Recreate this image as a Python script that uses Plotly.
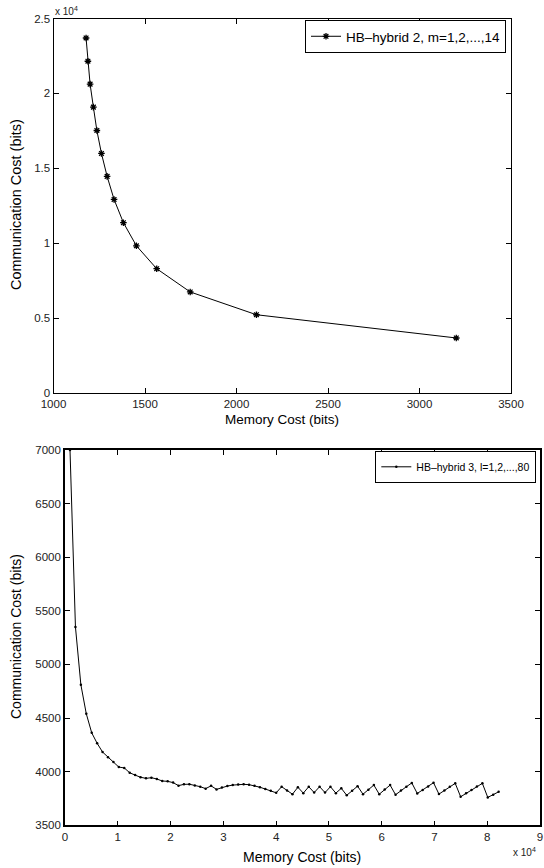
import plotly.graph_objects as go

# ---------------- data: top chart (HB-hybrid 2, m=1..14) ----------------
mem2 = [1178, 1188, 1200, 1218, 1237, 1262, 1293, 1331, 1382, 1453, 1564, 1747, 2109, 3201]
comm2 = [23700, 22150, 20620, 19090, 17530, 16000, 14470, 12930, 11380, 9840, 8310, 6760, 5240, 3690]

# ---------------- data: bottom chart (HB-hybrid 3, l=1..80) ----------------
mem3 = [950, 1978, 3006, 4034, 5062, 6090, 7118, 8146, 9174, 10202,
        11230, 12258, 13286, 14314, 15342, 16370, 17398, 18426, 19454, 20482,
        21510, 22538, 23566, 24594, 25622, 26650, 27678, 28706, 29734, 30762,
        31790, 32818, 33846, 34874, 35902, 36930, 37958, 38986, 40014, 41042,
        42070, 43098, 44126, 45154, 46182, 47210, 48238, 49266, 50294, 51322,
        52350, 53378, 54406, 55434, 56462, 57490, 58518, 59546, 60574, 61602,
        62630, 63658, 64686, 65714, 66742, 67770, 68798, 69826, 70854, 71882,
        72910, 73938, 74966, 75994, 77022, 78050, 79078, 80106, 81134, 82162]
comm3 = [7000, 5350, 4811, 4540, 4362, 4265, 4183, 4135, 4090, 4043,
         4035, 3990, 3968, 3948, 3938, 3944, 3932, 3913, 3910, 3898,
         3870, 3882, 3883, 3872, 3860, 3842, 3868, 3835, 3853, 3866,
         3875, 3880, 3882, 3879, 3870, 3855, 3838, 3822, 3803, 3860,
         3825, 3790, 3855, 3800, 3860, 3805, 3860, 3805, 3860, 3800,
         3845, 3780, 3822, 3865, 3790, 3832, 3875, 3790, 3835, 3875,
         3785, 3825, 3860, 3895, 3797, 3830, 3862, 3897, 3791, 3825,
         3860, 3891, 3766, 3798, 3830, 3862, 3891, 3760, 3786, 3812]

top_xticks = [1000, 1500, 2000, 2500, 3000, 3500]
top_yticks = [0, 5000, 10000, 15000, 20000, 25000]
top_ytext = ["0", "0.5", "1", "1.5", "2", "2.5"]
bot_xticks = [0, 10000, 20000, 30000, 40000, 50000, 60000, 70000, 80000, 90000]
bot_xtext = ["0", "1", "2", "3", "4", "5", "6", "7", "8", "9"]
bot_yticks = [3500, 4000, 4500, 5000, 5500, 6000, 6500, 7000]

W, H = 544, 868
FONT = "Liberation Sans, Arial, Helvetica, sans-serif"


def px(x):
    return x / W


def py(y):
    return 1 - y / H


fig = go.Figure()
fig.add_trace(go.Scatter(
    x=mem2, y=comm2, mode="lines+markers", name="HB\u2013hybrid 2, m=1,2,...,14",
    line=dict(color="black", width=1),
    marker=dict(symbol="asterisk-open", size=5.5, color="black", line=dict(color="black", width=1.3)),
    xaxis="x", yaxis="y", legend="legend"))
fig.add_trace(go.Scatter(
    x=mem3, y=comm3, mode="lines+markers", name="HB\u2013hybrid 3, l=1,2,...,80",
    line=dict(color="black", width=1),
    marker=dict(symbol="circle", size=2.5, color="black"),
    xaxis="x2", yaxis="y2", legend="legend2"))

axis_common = dict(showline=True, linecolor="black", mirror="allticks", ticks="inside",
                   ticklen=5, tickcolor="black", showgrid=False, zeroline=False,
                   automargin=False,
                   tickfont=dict(family=FONT, size=11.5, color="#222"))

fig.update_layout(
    template="none",
    width=W, height=H, margin=dict(l=0, r=0, t=0, b=0, pad=0, autoexpand=False),
    paper_bgcolor="white", plot_bgcolor="white",
    font=dict(family=FONT, color="black"),
    xaxis=dict(domain=[px(53.5), px(511)], range=[1000, 3500], tickvals=top_xticks,
               anchor="y", linewidth=1, **axis_common),
    yaxis=dict(domain=[py(393.3), py(18.5)], range=[0, 25000], tickvals=top_yticks,
               ticktext=top_ytext, anchor="x", linewidth=1, **axis_common),
    xaxis2=dict(domain=[px(65), px(540)], range=[0, 90000], tickvals=bot_xticks,
                ticktext=bot_xtext, anchor="y2", linewidth=1.6, **axis_common),
    yaxis2=dict(domain=[py(825.3), py(450)], range=[3500, 7000], tickvals=bot_yticks,
                anchor="x2", linewidth=1.6, **axis_common),
    legend=dict(x=px(506), y=py(20), xanchor="right", yanchor="top",
                bordercolor="black", borderwidth=1, bgcolor="white",
                font=dict(family=FONT, size=13.5), itemwidth=30,
                tracegroupgap=0),
    legend2=dict(x=px(536), y=py(451), xanchor="right", yanchor="top",
                 bordercolor="black", borderwidth=1.3, bgcolor="white",
                 font=dict(family=FONT, size=10.5), itemwidth=30,
                 tracegroupgap=0),
    showlegend=True,
)

ann = [
    dict(text="x 10<sup>4</sup>", x=px(53), y=py(11), xanchor="left", yanchor="middle",
         showarrow=False, font=dict(size=10, color="#222")),
    dict(text="Communication Cost (bits)", x=px(16), y=py(205), textangle=-90,
         xanchor="center", yanchor="middle", showarrow=False, font=dict(size=14.5)),
    dict(text="Memory Cost (bits)", x=px(282), y=py(419), xanchor="center", yanchor="middle",
         showarrow=False, font=dict(size=13.5)),
    dict(text="Communication Cost (bits)", x=px(16), y=py(637), textangle=-90,
         xanchor="center", yanchor="middle", showarrow=False, font=dict(size=14)),
    dict(text="Memory Cost (bits)", x=px(302), y=py(857), xanchor="center", yanchor="middle",
         showarrow=False, font=dict(size=14)),
    dict(text="x 10<sup>4</sup>", x=px(538), y=py(852), xanchor="right", yanchor="middle",
         showarrow=False, font=dict(size=10, color="#222")),
]
fig.update_layout(annotations=[dict(a, xref="paper", yref="paper") for a in ann])

fig.write_html(
    "out.html",
    config={"displayModeBar": False},
    post_script="document.documentElement.style.margin='0';document.body.style.margin='0';"
                "document.body.style.padding='0';document.body.style.overflow='hidden';",
)
